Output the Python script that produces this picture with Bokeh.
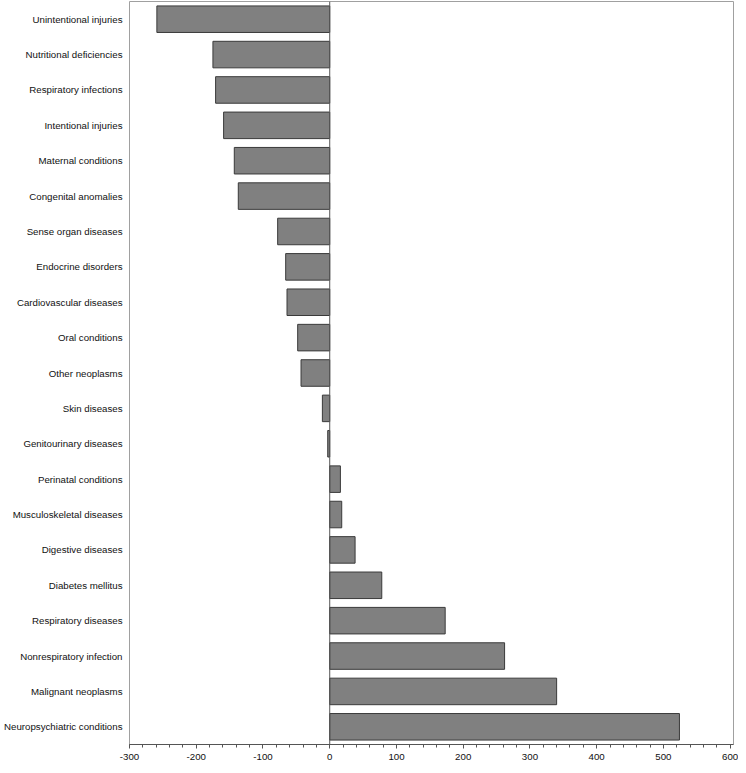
from bokeh.plotting import figure
from bokeh.models import FactorRange, Range1d, Span, FixedTicker, ColumnDataSource, PrintfTickFormatter
from bokeh.embed import file_html
from bokeh.resources import INLINE

categories = [
    "Unintentional injuries", "Nutritional deficiencies", "Respiratory infections",
    "Intentional injuries", "Maternal conditions", "Congenital anomalies",
    "Sense organ diseases", "Endocrine disorders", "Cardiovascular diseases",
    "Oral conditions", "Other neoplasms", "Skin diseases", "Genitourinary diseases",
    "Perinatal conditions", "Musculoskeletal diseases", "Digestive diseases",
    "Diabetes mellitus", "Respiratory diseases", "Nonrespiratory infection",
    "Malignant neoplasms", "Neuropsychiatric conditions",
]
values = [-259, -175, -171, -159, -143, -137, -78, -66, -64, -48, -43, -11, -3,
          16, 18, 38, 78, 173, 262, 340, 524]
x_ticks = [-300, -200, -100, 0, 100, 200, 300, 400, 500, 600]

FONT = "Liberation Sans"
FSIZE = "9.7px"

src = ColumnDataSource(dict(cat=categories, val=values, zero=[0] * len(values)))

p = figure(
    width=738, height=765,
    y_range=FactorRange(*reversed(categories)),
    x_range=Range1d(-300, 605),
    output_backend="svg", toolbar_location=None,
    min_border_left=129, min_border_right=5, min_border_top=1, min_border_bottom=21,
)

p.hbar(y="cat", left="zero", right="val", height=0.75, source=src,
       fill_color="#808080", line_color="#3a3a3a", line_width=1)

p.add_layout(Span(location=0, dimension="height", line_color="#555555", line_width=1))

p.xgrid.visible = False
p.ygrid.visible = False
p.outline_line_color = "#a0a0a0"
p.outline_line_width = 1
p.background_fill_color = "white"
p.border_fill_color = "white"

xa = p.xaxis[0]
xa.ticker = FixedTicker(ticks=x_ticks, minor_ticks=list(range(-300, 601, 20)))
xa.formatter = PrintfTickFormatter(format="%d")
xa.axis_line_color = "#555555"
xa.major_tick_line_color = "#555555"
xa.minor_tick_line_color = "#555555"
xa.major_tick_in = 0
xa.major_tick_out = 4
xa.minor_tick_in = 0
xa.minor_tick_out = 3
xa.major_label_standoff = 5
xa.major_label_text_font = FONT
xa.major_label_text_font_size = FSIZE
xa.major_label_text_color = "#111111"

ya = p.yaxis[0]
ya.axis_line_color = None
ya.major_tick_line_color = None
ya.minor_tick_line_color = None
ya.major_tick_in = 0
ya.major_tick_out = 0
ya.minor_tick_in = 0
ya.minor_tick_out = 0
ya.major_label_standoff = 7
ya.major_label_text_font = FONT
ya.major_label_text_font_size = FSIZE
ya.major_label_text_color = "#111111"

open("out.html", "w").write(file_html(p, INLINE))
